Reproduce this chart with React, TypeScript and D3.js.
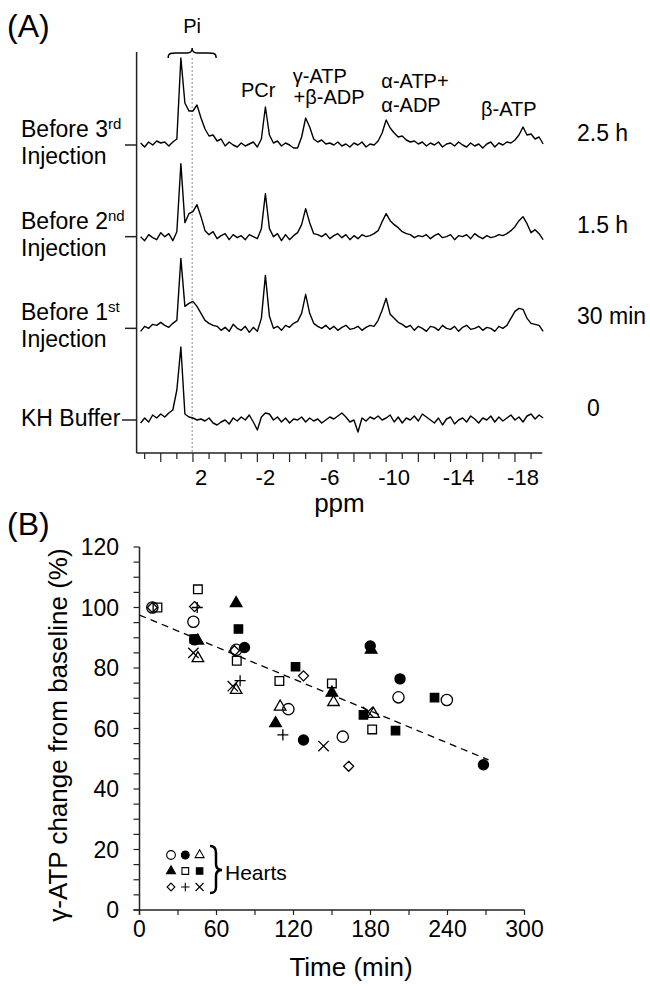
import React, { useEffect } from "react";
import * as d3 from "d3";

const FONT = "'Liberation Sans', Arial, sans-serif";

// ---------- panel A: 31P spectra ----------
// intensities, one value every 0.25 ppm from 5.75 down to -19.25
const ppmGrid = d3.range(101).map((i) => 5.75 - 0.25 * i);

const spec3rd = [
  2, -2, 3, 0, 4, 2, 3, -1, 3, 6, 87, 42, 34, 34, 40, 27, 16, 9, 10, 4,
  6, -1, 3, 0, -2, 2, -1, 1, 3, -2, 6, 38, 10, 2, 4, -1, 2, 0, -3, -3,
  8, 27, 18, 6, 3, 5, 1, 2, 0, 3, -1, 1, -2, 2, 0, 3, -2, 1, 0, 4,
  12, 25, 17, 12, 8, 9, 5, 3, 4, 1, 3, -1, 2, 0, 3, -2, 1, 2, -1, 3,
  0, -2, 2, -1, 1, -3, 1, 3, -2, 2, 0, 3, 2, 5, 10, 18, 10, 11, 6, 8, 1,
];
const spec2nd = [
  0, -4, 2, -1, -3, 4, 0, 3, -4, 5, 73, 14, 23, 25, 32, 20, 6, 2, 5, -2,
  1, 3, -3, 2, -1, 1, -3, 2, 0, -2, 8, 43, 8, 0, 3, -4, 2, -3, 1, 4,
  12, 28, 14, 3, 2, 0, 3, -2, 1, 3, -1, 2, -3, 1, -2, 2, 0, 1, 3, 6,
  15, 23, 16, 12, 9, 5, 3, 2, -1, 1, 0, 2, -2, 1, 3, -1, 0, 2, -3, 1,
  0, 2, -2, 3, 0, -2, 1, -1, 0, 2, 1, 3, 6, 10, 16, 20, 13, 4, 7, 3, -3,
];
const spec1st = [
  -3, 2, 0, 4, 3, 6, 3, 1, 5, 8, 70, 22, 25, 27, 22, 15, 8, 5, 3, 2,
  -2, 1, -3, 4, 0, -2, 2, -4, 1, -3, 10, 53, 12, 0, 2, -2, 3, 1, 5, 7,
  15, 34, 15, 5, 2, 0, 3, -1, 2, -2, 1, 3, -1, 0, 2, -2, 1, 3, 2, 8,
  18, 30, 14, 10, 6, 4, 1, 3, -2, 2, 0, -3, 2, 1, -2, 3, 0, -1, 2, -3,
  1, 3, -1, 0, 2, -2, 1, 0, -3, 2, 0, 3, 10, 17, 20, 19, 10, 5, 4, 3, -3,
];
const specKH = [
  -3, 2, -2, 5, 2, 6, 3, 7, 10, 30, 73, 6, 3, 2, 0, 1, -1, 2, -3, -5,
  -2, 0, -4, 2, -1, 3, 0, 5, -2, -10, 3, 7, 6, 0, 3, -2, 2, -3, 1, 0,
  3, -2, 2, -1, 1, -3, 0, 3, 1, 4, 7, 3, -2, 0, -12, 2, -1, 3, 1, 4,
  0, 2, 5, -2, 3, -3, 2, 0, 4, -1, 6, 3, 0, -3, 2, -5, 1, 3, -4, 0,
  2, -2, 4, 1, -3, 2, 0, 4, -2, 3, -1, 2, 5, 0, 3, -2, 4, 6, 1, 5, 2,
];

const rowNames = ["Before 3rd", "Before 2nd", "Before 1st", "KH Buffer"];
const rowOrdinal = ["3", "2", "1", ""];
const rowSup = ["rd", "nd", "st", ""];
const rowTimes = ["2.5 h", "1.5 h", "30 min", "0"];
const rowSpectra = [spec3rd, spec2nd, spec1st, specKH];

const ppmTickLabels = [2, -2, -6, -10, -14, -18];
const ppmMinorTicks = d3.range(25).map((i) => 5.5 - i);

// peak annotations: [text, ppm, anchor, line]
const peakLabels: [string, number, string, number][] = [
  ["PCr", -1.55, "middle", 0],
  ["γ-ATP", -3.7, "start", 0],
  ["+β-ADP", -3.75, "start", 1],
  ["α-ATP+", -9.2, "start", 0],
  ["α-ADP", -9.2, "start", 1],
  ["β-ATP", -18.85, "end", 2],
];
const piPpm = 2.55;

// ---------- panel B: γ-ATP vs time ----------
// [time (min), γ-ATP (% of baseline)] for each heart
const heartOpenCircle = [[10, 100], [42, 95.3], [75.4, 86], [116, 66.4], [158.4, 57.3], [201.8, 70.3], [239.5, 69.4]];
const heartFilledCircle = [[43, 89.3], [81.8, 86.8], [127.8, 56.2], [179.8, 87.3], [203, 76.4], [268, 48]];
const heartOpenTriangle = [[45.5, 83.2], [75.3, 72.7], [109.6, 67.2], [151.2, 68.7], [182.3, 64.8]];
const heartFilledTriangle = [[45.4, 89], [75.3, 101.4], [106, 61.7], [149.9, 71.8], [180.5, 86]];
const heartOpenSquare = [[14, 100], [45.5, 106], [75.8, 82.4], [109, 75.7], [149.9, 74.9], [181.3, 59.7]];
const heartFilledSquare = [[42.6, 89.6], [77.1, 92.9], [121.6, 80.4], [174.5, 64.5], [199.5, 59.3], [229.9, 70.2]];
const heartDiamond = [[10, 100], [42.9, 100.3], [74, 85.7], [127.8, 77.4], [163, 47.5]];
const heartPlus = [[45, 100], [78.4, 75.8], [111.7, 57.9]];
const heartCross = [[42, 85], [72.7, 74], [143.4, 54.2], [178, 65.5]];

const trendTime = [0, 272];
const trendValue = [97.5, 49.6];

const timeTicks = [0, 60, 120, 180, 240, 300];
const atpTicks = [0, 20, 40, 60, 80, 100, 120];

const hearts = [
  { data: heartOpenCircle, shape: d3.symbolCircle, size: 100, filled: false },
  { data: heartFilledCircle, shape: d3.symbolCircle, size: 80, filled: true },
  { data: heartOpenTriangle, shape: d3.symbolTriangle, size: 58, filled: false },
  { data: heartFilledTriangle, shape: d3.symbolTriangle, size: 58, filled: true },
  { data: heartOpenSquare, shape: d3.symbolSquare, size: 75, filled: false },
  { data: heartFilledSquare, shape: d3.symbolSquare, size: 70, filled: true },
  { data: heartDiamond, shape: d3.symbolDiamond2, size: 64, filled: false },
  { data: heartPlus, shape: d3.symbolPlus, size: 42, filled: false },
  { data: heartCross, shape: d3.symbolTimes, size: 72, filled: false },
];

export default function App() {
  useEffect(() => {
    document.body.style.margin = "0";
  }, []);

  // panel A scales
  const xA = d3.scaleLinear().domain([2, -18]).range([201, 523]);
  const rowY = d3.scalePoint<string>().domain(rowNames).range([145, 420]);
  const axisAx = xA(6);
  const axisAy = 453;

  const specLine = (base: number) =>
    d3
      .line<number>()
      .x((_, i) => xA(ppmGrid[i]))
      .y((v) => base - v);

  // panel B scales
  const xB = d3.scaleLinear().domain([0, 300]).range([139.5, 524.5]);
  const yB = d3.scaleLinear().domain([0, 120]).range([910, 547]);
  const trendLine = d3
    .line<number>()
    .x((t) => xB(t))
    .y((_, i) => yB(trendValue[i]));

  const sym = (shape: any, size: number) => d3.symbol().type(shape).size(size)() || "";
  const px = xA(piPpm);

  return (
    <svg width={650} height={986} style={{ display: "block", background: "#fff" }} fontFamily={FONT}>
      {/* ---------------- Panel A ---------------- */}
      <text x={7} y={37} fontSize={32}>(A)</text>

      {/* Pi brace and label */}
      <path
        d={`M${px - 24},58 C${px - 24},52 ${px - 20},53 ${px - 12},53 L${px - 5},53 C${px - 1},53 ${px},51 ${px},48 C${px},51 ${px + 1},53 ${px + 5},53 L${px + 12},53 C${px + 20},53 ${px + 24},52 ${px + 24},58`}
        fill="none"
        stroke="#000"
        strokeWidth={1.4}
      />
      <text x={px} y={33} fontSize={20} textAnchor="middle">Pi</text>

      {peakLabels.map(([t, ppm, anchor, line], i) => (
        <text
          key={i}
          x={xA(ppm)}
          y={t === "PCr" ? 97 : t === "β-ATP" ? 116 : t.startsWith("α") ? 88 + line * 24 : 83 + line * 21}
          fontSize={20}
          textAnchor={anchor as any}
        >
          {t}
        </text>
      ))}

      {/* dotted Pi reference */}
      <line x1={px} x2={px} y1={58} y2={axisAy} stroke="#888" strokeWidth={1} strokeDasharray="2,2" />

      {/* axes */}
      <line x1={axisAx} x2={axisAx} y1={52} y2={axisAy} stroke="#222" strokeWidth={1.5} />
      <line x1={axisAx} x2={xA(-19.2)} y1={axisAy} y2={axisAy} stroke="#222" strokeWidth={1.5} />
      {ppmMinorTicks.map((p) => (
        <line
          key={p}
          x1={xA(p)}
          x2={xA(p)}
          y1={axisAy}
          y2={axisAy + (Math.abs((p - 0.5) % 2) < 0.01 ? 9 : 6)}
          stroke="#222"
          strokeWidth={1.2}
        />
      ))}
      {ppmTickLabels.map((p) => (
        <text key={p} x={xA(p)} y={axisAy + 32} fontSize={22} textAnchor="middle">
          {p}
        </text>
      ))}
      <text x={(axisAx + xA(-19.2)) / 2} y={axisAy + 59} fontSize={26} textAnchor="middle">ppm</text>

      {/* spectra rows */}
      {rowNames.map((name, r) => {
        const base = rowY(name)!;
        const isKH = rowSup[r] === "";
        return (
          <g key={name}>
            <line x1={isKH ? 122 : 125} x2={axisAx} y1={base} y2={base} stroke="#222" strokeWidth={1.5} />
            <path d={specLine(base)(rowSpectra[r]) || ""} fill="none" stroke="#000" strokeWidth={1.4} strokeLinejoin="round" />
            {isKH ? (
              <text x={21} y={base + 6} fontSize={23}>{name}</text>
            ) : (
              <>
                <text x={21} y={base - 8} fontSize={23}>
                  Before {rowOrdinal[r]}
                  <tspan dy={-8} fontSize={15}>{rowSup[r]}</tspan>
                </text>
                <text x={21} y={base + 19} fontSize={23}>Injection</text>
              </>
            )}
            <text x={rowTimes[r] === "0" ? 587 : 577} y={base - 4} fontSize={23}>
              {rowTimes[r]}
            </text>
          </g>
        );
      })}

      {/* ---------------- Panel B ---------------- */}
      <text x={7} y={535} fontSize={32}>(B)</text>

      <line x1={xB(0) - 6} x2={xB(300)} y1={yB(0)} y2={yB(0)} stroke="#222" strokeWidth={1.5} />
      <line x1={xB(0)} x2={xB(0)} y1={yB(120)} y2={yB(0) + 5} stroke="#222" strokeWidth={1.5} />
      {d3.range(0, 121, 5).map((v) => (
        <line key={v} x1={xB(0) - 6} x2={xB(0)} y1={yB(v)} y2={yB(v)} stroke="#222" strokeWidth={1.2} />
      ))}
      {d3.range(0, 301, 30).map((t) => (
        <line key={t} x1={xB(t)} x2={xB(t)} y1={yB(0)} y2={yB(0) + 5} stroke="#222" strokeWidth={1.2} />
      ))}
      {atpTicks.map((v) => (
        <text key={v} x={119} y={yB(v)} dy="0.36em" fontSize={23} textAnchor="end">
          {v}
        </text>
      ))}
      {timeTicks.map((t) => (
        <text key={t} x={xB(t)} y={937} fontSize={23} textAnchor="middle">
          {t}
        </text>
      ))}
      <text x={351} y={976} fontSize={26} textAnchor="middle">Time (min)</text>
      <text transform="translate(67,735) rotate(-90)" fontSize={26} textAnchor="middle">
        γ-ATP change from baseline (%)
      </text>

      {/* regression */}
      <path d={trendLine(trendTime) || ""} fill="none" stroke="#000" strokeWidth={1.3} strokeDasharray="7,5" />

      {/* points */}
      {hearts.map((h, k) =>
        h.data.map(([t, v], j) => (
          <path
            key={`${k}-${j}`}
            d={sym(h.shape, h.size)}
            transform={`translate(${xB(t)},${yB(v)})`}
            fill={h.filled ? "#000" : "#fff"}
            fillOpacity={h.filled ? 1 : 0}
            stroke="#000"
            strokeWidth={1.3}
          />
        ))
      )}

      {/* legend */}
      {hearts.map((h, k) => (
        <path
          key={k}
          d={sym(h.shape, h.size * 0.6)}
          transform={`translate(${171 + (k % 3) * 14.3},${855 + Math.floor(k / 3) * 16})`}
          fill={h.filled ? "#000" : "none"}
          stroke="#000"
          strokeWidth={1.1}
        />
      ))}
      <path
        d="M210,846 C215,846 216,849 216,853 L216,864 C216,868 218,870 222,870 C218,870 216,872 216,876 L216,887 C216,891 215,893 210,893"
        fill="none"
        stroke="#000"
        strokeWidth={2.5}
      />
      <text x={225} y={880} fontSize={21}>Hearts</text>
    </svg>
  );
}
